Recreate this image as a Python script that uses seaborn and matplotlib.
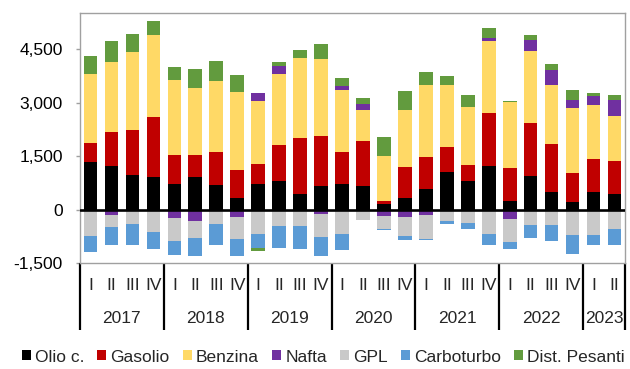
import numpy as np
import matplotlib
matplotlib.use("Agg")
import matplotlib.pyplot as plt
import seaborn as sns
from matplotlib.patches import Patch
from matplotlib.transforms import blended_transform_factory

# Quarterly data, 2017 I - 2023 II
years = ["2017", "2018", "2019", "2020", "2021", "2022", "2023"]
quarters_per_year = [4, 4, 4, 4, 4, 4, 2]
quarter_names = ["I", "II", "III", "IV"]

olio = [1351, 1240, 988, 932, 718, 932, 708, 345, 736, 820, 457, 680, 736,
        680, 177, 336, 587, 1072, 820, 1240, 261, 960, 513, 233, 503, 457]
gasolio = [532, 932, 1239, 1659, 810, 615, 923, 783, 550, 997, 1547, 1389, 886,
           1249, 65, 857, 895, 680, 438, 1481, 913, 1463, 1332, 811, 923, 913]
benzina = [1920, 1975, 2191, 2293, 2107, 1873, 1967, 2181, 1752, 1986, 2237, 2153, 1743,
           858, 1277, 1612, 2022, 1752, 1622, 2004, 1846, 2013, 1641, 1817, 1510, 1268]
nafta = [0, -140, 0, 0, -242, -308, 0, -205, 224, 233, 0, -103, 102,
         177, -186, -205, -158, 0, 0, 93, -261, 327, 438, 224, 261, 447]
gpl = [-727, -354, -391, -615, -625, -475, -391, -624, -690, -447, -447, -652, -690,
       -280, -364, -522, -653, -308, -382, -671, -652, -438, -438, -699, -699, -541]
carboturbo = [-457, -503, -606, -485, -391, -522, -597, -476, -372, -634, -643, -550, -447,
              0, -28, -112, -28, -93, -168, -326, -187, -345, -438, -541, -298, -456]
dist_pesanti = [512, 569, 494, 391, 363, 513, 568, 466, -103, 93, 233, 419, 224,
                168, 522, 522, 354, 233, 345, 271, 37, 130, 158, 270, 74, 130]

colors = {
    "Olio c.": "#000000",
    "Gasolio": "#C00000",
    "Benzina": "#FFD966",
    "Nafta": "#7030A0",
    "GPL": "#C9C9C9",
    "Carboturbo": "#5B9BD5",
    "Dist. Pesanti": "#629B3E",
}

sns.set_theme(style="white")
plt.rcParams["font.family"] = ["Liberation Sans", "DejaVu Sans"]

periods = [f"{y} {q}" for y, n in zip(years, quarters_per_year) for q in quarter_names[:n]]

nafta_a = np.array(nafta, dtype=float)
dist_a = np.array(dist_pesanti, dtype=float)

pos_layers = [
    ("Olio c.", np.array(olio, dtype=float)),
    ("Gasolio", np.array(gasolio, dtype=float)),
    ("Benzina", np.array(benzina, dtype=float)),
    ("Nafta", np.clip(nafta_a, 0, None)),
    ("Dist. Pesanti", np.clip(dist_a, 0, None)),
]
neg_layers = [
    ("Nafta", np.clip(nafta_a, None, 0)),
    ("GPL", np.array(gpl, dtype=float)),
    ("Carboturbo", np.array(carboturbo, dtype=float)),
    ("Dist. Pesanti", np.clip(dist_a, None, 0)),
]

fig = plt.figure(figsize=(6.3, 3.69), dpi=100)
ax = fig.add_axes([0.12698, 0.2862, 0.86508, 0.6794])

bar_w = 0.65


def draw_stack(layers):
    # cumulative totals drawn outermost first so inner layers sit on top
    cums = np.cumsum(np.vstack([v for _, v in layers]), axis=0)
    for (name, _), cum in reversed(list(zip(layers, cums))):
        sns.barplot(x=periods, y=cum, order=periods, color=colors[name],
                    saturation=1, width=bar_w, errorbar=None, linewidth=0, ax=ax)


draw_stack(pos_layers)
draw_stack(neg_layers)

grey = "#A0A0A0"
ax.set_xlim(-0.5, len(periods) - 0.5)
ax.set_ylim(-1500, 5520)
yt = [-1500, 0, 1500, 3000, 4500]
ax.set_yticks(yt)
ax.set_yticklabels([f"{v:,}" for v in yt])
ax.set_xticks([])
ax.set_xlabel("")
ax.set_ylabel("")
for s in ax.spines.values():
    s.set_color(grey)
    s.set_linewidth(1.0)
ax.tick_params(axis="y", left=True, length=3, width=1, color=grey, pad=9.5,
               labelsize=12.5, labelcolor="black")
ax.axhline(0, color="black", lw=1.9, zorder=5)

# two-level category axis below the plot
trans = blended_transform_factory(ax.transData, fig.transFigure)
y_top, y_bot = 0.2862, 0.1057
bounds = [-0.5]
pos = -0.5
for n in quarters_per_year:
    pos += n
    bounds.append(pos)
for b in bounds:
    ax.plot([b, b], [y_bot, y_top], transform=trans, color="black", lw=1.6,
            clip_on=False, solid_capstyle="butt")

idx = 0
for y, n in zip(years, quarters_per_year):
    for k in range(n):
        ax.text(idx + k, 0.2276, quarter_names[k], transform=trans, ha="center",
                va="center", fontsize=12.5)
    ax.text(idx + (n - 1) / 2, 0.1360, y, transform=trans, ha="center",
            va="center", fontsize=12.5)
    idx += n

legend_names = ["Olio c.", "Gasolio", "Benzina", "Nafta", "GPL", "Carboturbo", "Dist. Pesanti"]
handles = [Patch(facecolor=colors[n], edgecolor="none") for n in legend_names]
fig.legend(handles, legend_names, loc="center", bbox_to_anchor=(0.513, 0.0325),
           ncol=7, frameon=False, fontsize=12.5, handlelength=0.52, handleheight=0.52,
           handletextpad=0.23, columnspacing=0.76, borderaxespad=0, borderpad=0)

fig.savefig("out.png", dpi=100)
